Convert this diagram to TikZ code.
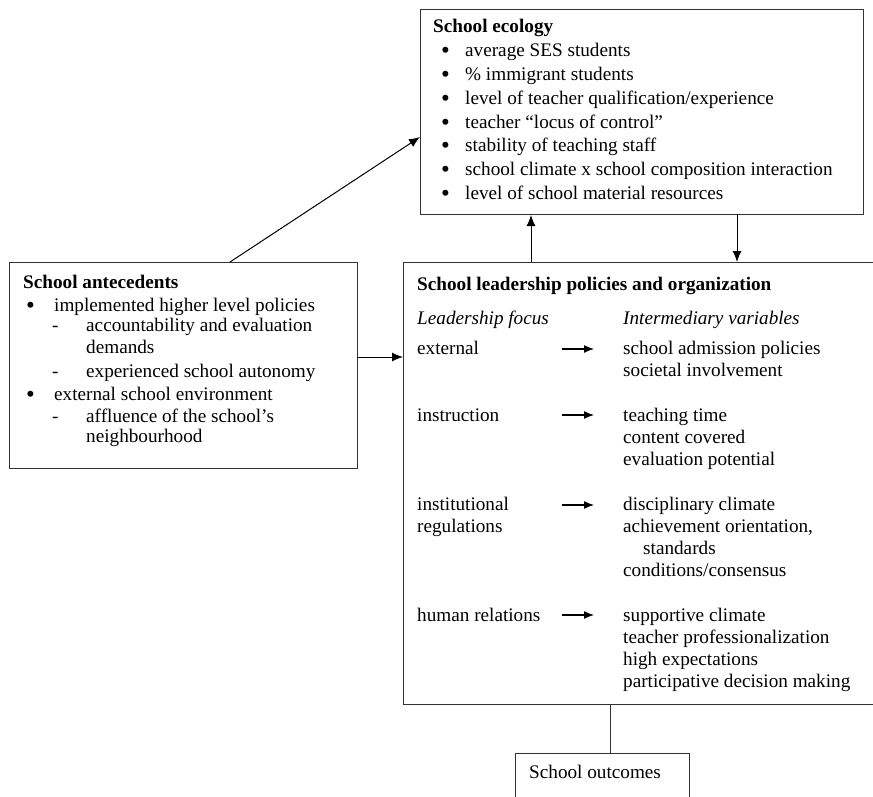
\documentclass[tikz,border=0pt]{standalone}
\usepackage{fontspec}
\setmainfont{Liberation Serif}
\usetikzlibrary{arrows.meta}
\usetikzlibrary{positioning}

\tikzset{
  frame/.style={draw=black!80, line width=1pt, anchor=north west, inner sep=0pt},
  txt/.style={anchor=base west, inner sep=0pt, font=\fontsize{19.2}{22}\selectfont},
  dot/.style={anchor=base west, inner sep=0pt, font=\fontsize{25}{22}\selectfont},
  head/.style={txt, font=\fontsize{19.2}{22}\selectfont\bfseries},
  emph/.style={txt, font=\fontsize{19.2}{22}\selectfont\itshape},
  link/.style={line width=1pt, -{Latex[length=11pt,width=9pt]}},
  smalllink/.style={line width=1.3pt, -{Latex[length=10pt,width=8pt]}},
}

\begin{document}
\begin{tikzpicture}[x=1pt,y=-1pt]
  \useasboundingbox (0,0) rectangle (873,797);
  % boxes
  \node[frame, minimum width=443pt, minimum height=205pt] (ecology) at (420,9) {};
  \node[frame, minimum width=348pt, minimum height=206pt] (antecedents) at (9,262) {};
  \node[frame, minimum width=480pt, minimum height=442pt] (leadership) at (403,262) {};
  \node[frame, minimum width=174pt, minimum height=60pt] (outcomes) at (515,753) {};

  % school ecology
  \node[head] (eco-head) at (433,33) {School ecology};
  \foreach \t [count=\i from 0] in {average SES students, \% immigrant students,
      level of teacher qualification/experience, teacher “locus of control”,
      stability of teaching staff, school climate x school composition interaction,
      level of school material resources} {
    \node[dot] (eco-b\i) at (441,59+23.7*\i) {\textbullet};
    \node[txt] (eco-\i) at (465,57+23.7*\i) {\t};
  }

  % school antecedents
  \node[head] (ante-head) at (23,288) {School antecedents};
  \foreach \y/\t in {311/implemented higher level policies, 400/external school environment} {
    \node[dot] (ante-b\y) at (26,\y+2) {\textbullet};
    \node[txt] (ante-\y) at (54,\y) {\t};
  }
  \foreach \y in {331, 377, 422}
    \node[txt] (ante-d\y) at (52,\y) {-};
  \foreach \y/\t in {331/accountability and evaluation, 353/demands,
      377/experienced school autonomy, 422/affluence of the school’s, 442/neighbourhood}
    \node[txt] (ante-s\y) at (86,\y) {\t};

  % school leadership
  \node[head] (lead-head) at (417,290) {School leadership policies and organization};
  \node[emph] (focus) at (417,324) {Leadership focus};
  \node[emph] (vars) at (623,324) {Intermediary variables};
  \foreach \y/\t in {354/external, 421/instruction, 510/institutional,
      532/regulations, 621/human relations}
    \node[txt] (lf-\y) at (417,\y) {\t};
  \foreach \y [count=\i] in {349, 415, 505, 615} {
    \coordinate (fa\i) at (562,\y);
    \coordinate (fb\i) at (594,\y);
    \draw[smalllink] (fa\i) -- (fb\i);
  }
  \foreach \y/\t in {354/school admission policies, 376/societal involvement,
      421/teaching time, 443/content covered, 465/evaluation potential,
      510/disciplinary climate, 532/{achievement orientation,}, 576/{conditions/consensus},
      621/supportive climate, 643/teacher professionalization, 665/high expectations,
      687/participative decision making}
    \node[txt] (iv-\y) at (623,\y) {\t};
  \node[txt] (iv-554) at (643,554) {standards};

  % school outcomes
  \node[txt] (out-text) at (529,778) {School outcomes};

  % connectors
  \coordinate (ante-up) at (230,262);
  \coordinate (eco-in) at (420,137);
  \draw[link] (ante-up) -- (eco-in);
  \coordinate (ante-out) at (357,357);
  \draw[link] (ante-out) -- (ante-out -| leadership.west);
  \coordinate (lead-up) at (531,262);
  \draw[link] (lead-up) -- (lead-up |- ecology.south);
  \coordinate (eco-down) at (737,214);
  \draw[link] (eco-down) -- (eco-down |- leadership.north);
  \coordinate (lead-down) at (610,704);
  \draw[line width=1pt, black!80] (lead-down) -- (lead-down |- outcomes.north);
\end{tikzpicture}
\end{document}
